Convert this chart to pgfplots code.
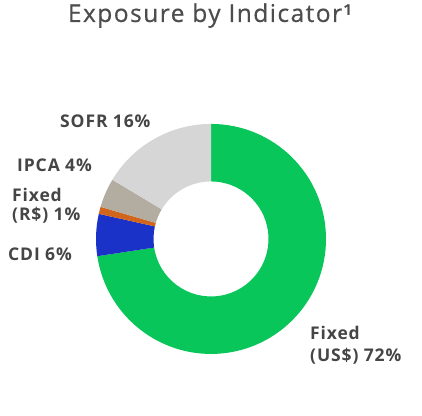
\documentclass[border=0pt]{standalone}
\usepackage{fontspec}
\setmainfont{Open Sans}
\newfontfamily\titlefont[LetterSpace=6,FakeBold=0.6]{Open Sans}
\newfontfamily\lblfont[LetterSpace=5]{Open Sans}
\usepackage{pgfplots}
\usepackage{pgfplotstable}
\pgfplotsset{compat=1.18}
\definecolor{cGreen}{HTML}{08C65A}
\definecolor{cBlue}{HTML}{1B32C8}
\definecolor{cOrange}{HTML}{D2651C}
\definecolor{cBeige}{HTML}{B2ACA1}
\definecolor{cGray}{HTML}{D6D6D6}
\definecolor{cText}{HTML}{454545}
\definecolor{cTitle}{HTML}{4D4D4D}
\pgfplotstableread{
label value color
FixedUS 72.6 cGreen
CDI 5.9 cBlue
FixedR 1.0 cOrange
IPCA 4.1 cBeige
SOFR 16.4 cGray
}\datatable
\begin{document}
\begin{tikzpicture}
\def\cum{0}
\pgfplotsforeachungrouped \i in {0,...,4}{%
  \pgfplotstablegetelem{\i}{value}\of\datatable
  \pgfmathsetmacro\start{90-3.6*\cum}%
  \pgfmathsetmacro\cum{\cum+\pgfplotsretval}%
  \pgfmathsetmacro\stop{90-3.6*\cum}%
  \expandafter\xdef\csname sA\i\endcsname{\start}%
  \expandafter\xdef\csname sB\i\endcsname{\stop}%
  \pgfplotstablegetelem{\i}{color}\of\datatable
  \expandafter\xdef\csname col\i\endcsname{\pgfplotsretval}%
}
\begin{axis}[
  scale only axis, width=422pt, height=414pt,
  xmin=0, xmax=422, ymin=0, ymax=414,
  hide axis, clip=false]
\path (axis cs:0,0) rectangle (axis cs:422,414);
\pgfplotsinvokeforeach{0,...,4}{
  \fill[\csname col#1\endcsname, shift={(axis cs:211,177)}]
    (\csname sA#1\endcsname:115pt)
    arc[start angle=\csname sA#1\endcsname, end angle=\csname sB#1\endcsname, radius=115pt]
    -- (\csname sB#1\endcsname:57.5pt)
    arc[start angle=\csname sB#1\endcsname, end angle=\csname sA#1\endcsname, radius=57.5pt]
    -- cycle;
}
\node[anchor=base, text=cTitle, font=\titlefont\fontsize{24.5}{28}\selectfont] at (axis cs:210,394) {Exposure by Indicator¹};
\tikzset{lbl/.style={anchor=base west, inner sep=0pt, text=cText, font=\lblfont\bfseries\fontsize{17.5}{20}\selectfont}}
\node[lbl] at (axis cs:60,288) {SOFR 16\%};
\node[lbl] at (axis cs:17,244) {IPCA 4\%};
\node[lbl] at (axis cs:12,214) {Fixed};
\node[lbl] at (axis cs:12,195) {(R\$) 1\%};
\node[lbl] at (axis cs:8,155) {CDI 6\%};
\node[lbl] at (axis cs:310,76) {Fixed};
\node[lbl] at (axis cs:310,54) {(US\$) 72\%};
\end{axis}
\end{tikzpicture}
\end{document}
